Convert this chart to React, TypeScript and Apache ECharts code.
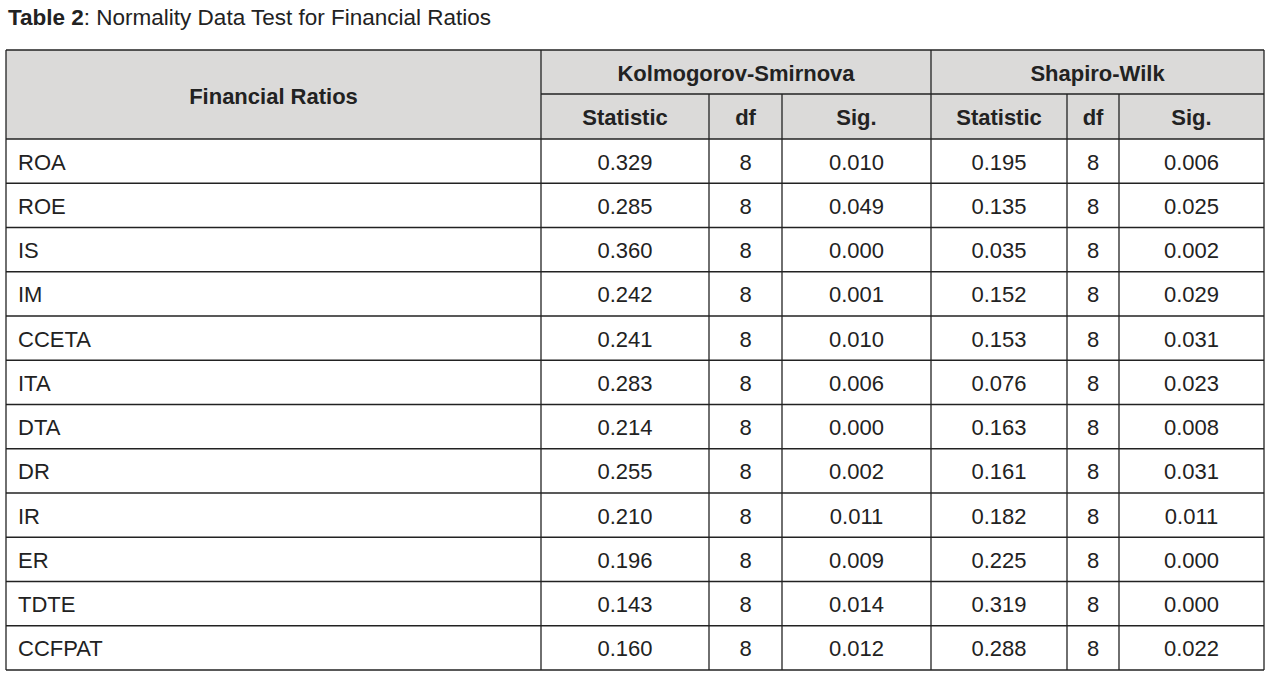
import React, { useEffect, useRef } from "react";
import * as echarts from "echarts";

const titleBold = "Table 2";
const titleRest = ": Normality Data Test for Financial Ratios";
const groupHeaders = ["Kolmogorov-Smirnova", "Shapiro-Wilk"];
const firstHeader = "Financial Ratios";
const subHeaders = ["Statistic", "df", "Sig.", "Statistic", "df", "Sig."];

const ratios = ["ROA", "ROE", "IS", "IM", "CCETA", "ITA", "DTA", "DR", "IR", "ER", "TDTE", "CCFPAT"];
const ksStatistic = [0.329, 0.285, 0.36, 0.242, 0.241, 0.283, 0.214, 0.255, 0.21, 0.196, 0.143, 0.16];
const ksDf = [8, 8, 8, 8, 8, 8, 8, 8, 8, 8, 8, 8];
const ksSig = [0.01, 0.049, 0.0, 0.001, 0.01, 0.006, 0.0, 0.002, 0.011, 0.009, 0.014, 0.012];
const swStatistic = [0.195, 0.135, 0.035, 0.152, 0.153, 0.076, 0.163, 0.161, 0.182, 0.225, 0.319, 0.288];
const swDf = [8, 8, 8, 8, 8, 8, 8, 8, 8, 8, 8, 8];
const swSig = [0.006, 0.025, 0.002, 0.029, 0.031, 0.023, 0.008, 0.031, 0.011, 0.0, 0.0, 0.022];

const colX = [6, 541, 709, 782, 931, 1067, 1119, 1264];
const tableTop = 50;
const headerMid = 94;
const headerBottom = 139;
const tableBottom = 670;

const FONT = "'Liberation Sans', Arial, sans-serif";
const TEXT = "#222222";
const LINE = "#222222";
const HEAD_BG = "#dbdad9";
const FS = 22;
const TITLE_FS = 22.5;

export default function App() {
  const ref = useRef<HTMLDivElement>(null);
  useEffect(() => {
    if (!ref.current) return;
    const chart = echarts.init(ref.current, null, { renderer: "svg" });
    const rowH = (tableBottom - headerBottom) / ratios.length;
    const els: any[] = [];
    els.push({
      type: "rect",
      shape: { x: colX[0], y: tableTop, width: colX[7] - colX[0], height: headerBottom - tableTop },
      style: { fill: HEAD_BG },
      silent: true,
    });
    const line = (x1: number, y1: number, x2: number, y2: number) =>
      els.push({
        type: "line",
        shape: { x1, y1, x2, y2 },
        style: { stroke: LINE, lineWidth: 1.3 },
        silent: true,
      });
    line(colX[0], tableTop, colX[7], tableTop);
    line(colX[1], headerMid, colX[7], headerMid);
    for (let i = 0; i <= ratios.length; i++) {
      const y = headerBottom + i * rowH;
      line(colX[0], y, colX[7], y);
    }
    [0, 1, 4, 7].forEach((c) => line(colX[c], tableTop, colX[c], tableBottom));
    [2, 3, 5, 6].forEach((c) => line(colX[c], headerMid, colX[c], tableBottom));

    const text = (t: string, x: number, y: number, align: string, bold: boolean) =>
      els.push({
        type: "text",
        x,
        y,
        style: {
          text: t,
          fill: TEXT,
          font: `${bold ? "bold " : ""}${FS}px ${FONT}`,
          align,
          verticalAlign: "middle",
        },
        silent: true,
      });

    els.push({
      type: "text",
      x: 8,
      y: 17,
      style: {
        text: `{b|${titleBold}}{n|${titleRest}}`,
        verticalAlign: "middle",
        rich: {
          b: { fontFamily: FONT, fontSize: TITLE_FS, fontWeight: "bold", fill: TEXT },
          n: { fontFamily: FONT, fontSize: TITLE_FS, fill: TEXT },
        },
      },
      silent: true,
    });

    text(firstHeader, (colX[0] + colX[1]) / 2, (tableTop + headerBottom) / 2 + 2, "center", true);
    text(groupHeaders[0], (colX[1] + colX[4]) / 2, (tableTop + headerMid) / 2 + 1, "center", true);
    text(groupHeaders[1], (colX[4] + colX[7]) / 2, (tableTop + headerMid) / 2 + 1, "center", true);
    subHeaders.forEach((h, i) =>
      text(h, (colX[i + 1] + colX[i + 2]) / 2, (headerMid + headerBottom) / 2 + 1, "center", true)
    );

    const cols = [ksStatistic, ksDf, ksSig, swStatistic, swDf, swSig];
    ratios.forEach((r, ri) => {
      const cy = headerBottom + (ri + 0.5) * rowH + 1;
      text(r, 18, cy, "left", false);
      cols.forEach((arr, ci) => {
        const v = arr[ri];
        const s = ci === 1 || ci === 4 ? String(v) : v.toFixed(3);
        text(s, (colX[ci + 1] + colX[ci + 2]) / 2, cy, "center", false);
      });
    });

    chart.setOption({
      animation: false,
      backgroundColor: "#ffffff",
      graphic: { elements: els },
    });
    return () => chart.dispose();
  }, []);
  return (
    <div
      ref={ref}
      style={{ position: "fixed", left: 0, top: 0, width: 1273, height: 679, background: "#fff" }}
    />
  );
}
